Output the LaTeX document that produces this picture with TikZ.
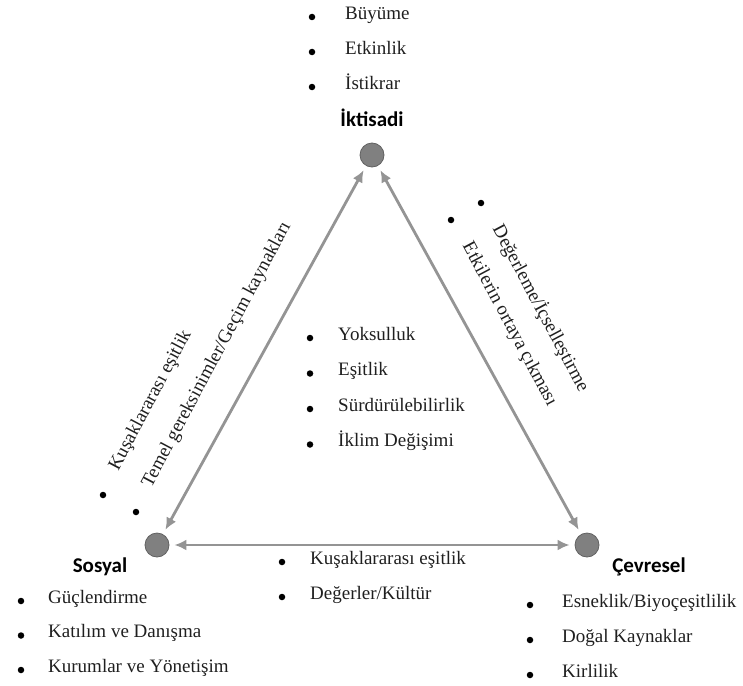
\documentclass[tikz,border=0pt]{standalone}
\usepackage{fontspec}
\setmainfont{Liberation Serif}
\newfontfamily\headfont{Carlito}
\usetikzlibrary{arrows.meta}
\tikzset{>={Latex[length=12pt,width=11pt]}}
\tikzstyle{pillar}=[circle,fill=black!50,draw=black!62,line width=0.8pt,minimum size=24pt,inner sep=0pt]
\tikzstyle{link}=[<->,black!42,line width=2.8pt,shorten <=5pt,shorten >=5pt]
\tikzstyle{head}=[font=\headfont\bfseries\fontsize{21}{24}\selectfont,inner sep=0pt,black]
\tikzstyle{entry}=[anchor=west,inner sep=0pt,text height=0.7em,text depth=0.25em,
                   font=\fontsize{19}{22}\selectfont,black!88]
\tikzstyle{dot}=[circle,fill=black,inner sep=0pt,minimum size=6.5pt]

\begin{document}
\begin{tikzpicture}[x=1pt,y=-1pt]
  \useasboundingbox (0,0) rectangle (743,685);

  % the three pillars
  \node[pillar] (ikt) at (372,155) {};
  \node[pillar] (sos) at (157,545) {};
  \node[pillar] (cev) at (587,545) {};
  \node[head] (iktlabel) at (372,118) {İktisadi};
  \node[head] (soslabel) at (100,567) {Sosyal};
  \node[head] (cevlabel) at (649,567) {Çevresel};

  \draw[link] (ikt) -- (sos);
  \draw[link] (ikt) -- (cev);
  \draw[link] (sos) -- (cev);

  % bullet lists
  \foreach \txt [count=\i] in {Büyüme,Etkinlik,İstikrar}{
    \node[dot] (iktdot\i) at (312,{17+35*(\i-1)}) {};
    \node[entry] (iktitem\i) at (345,{17+35*(\i-1)}) {\txt};
  }
  \foreach \txt [count=\i] in {Yoksulluk,Eşitlik,Sürdürülebilirlik,İklim Değişimi}{
    \node[dot] (middot\i) at (310,{338+35.5*(\i-1)}) {};
    \node[entry] (miditem\i) at (338,{338+35.5*(\i-1)}) {\txt};
  }
  \foreach \txt [count=\i] in {Güçlendirme,Katılım ve Danışma,Kurumlar ve Yönetişim}{
    \node[dot] (sosdot\i) at (21,{601+34.5*(\i-1)}) {};
    \node[entry] (sositem\i) at (48,{601+34.5*(\i-1)}) {\txt};
  }
  \foreach \txt [count=\i] in {Esneklik/Biyoçeşitlilik,Doğal Kaynaklar,Kirlilik}{
    \node[dot] (cevdot\i) at (530,{605+35*(\i-1)}) {};
    \node[entry] (cevitem\i) at (562,{605+35*(\i-1)}) {\txt};
  }
  \foreach \txt [count=\i] in {Kuşaklararası eşitlik,Değerler/Kültür}{
    \node[dot] (basedot\i) at (282,{562+35*(\i-1)}) {};
    \node[entry] (baseitem\i) at (310,{562+35*(\i-1)}) {\txt};
  }

  % along the sides
  \node[dot] (leftdot1) at (103,495) {};
  \node[entry,rotate=62] (leftitem1) at (116.2,470.3) {Kuşaklararası eşitlik};
  \node[dot] (leftdot2) at (136,512) {};
  \node[entry,rotate=62] (leftitem2) at (149.2,487.3) {Temel gereksinimler/Geçim kaynakları};
  \node[dot] (rightdot1) at (481,203) {};
  \node[entry,rotate=-62] (rightitem1) at (494.2,227.7) {Değerleme/İçselleştirme};
  \node[dot] (rightdot2) at (451,220) {};
  \node[entry,rotate=-62] (rightitem2) at (464.2,244.7) {Etkilerin ortaya çıkması};

\end{tikzpicture}
\end{document}
